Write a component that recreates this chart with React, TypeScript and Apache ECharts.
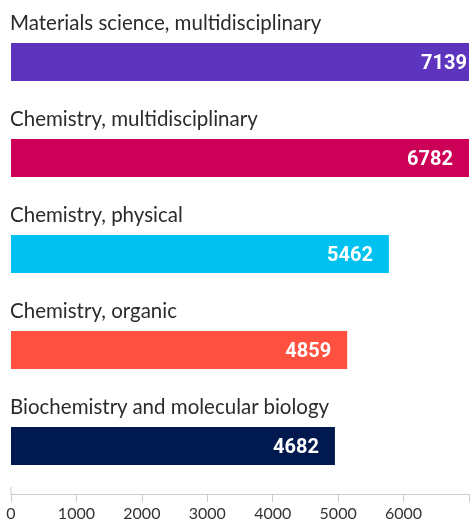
import React, { useEffect, useRef } from "react";
import * as echarts from "echarts";

const categories = [
  "Materials science, multidisciplinary",
  "Chemistry, multidisciplinary",
  "Chemistry, physical",
  "Chemistry, organic",
  "Biochemistry and molecular biology",
];
const values = [7139, 6782, 5462, 4859, 4682];
const colors = ["#5d34bd", "#cc0056", "#00c1ef", "#ff5040", "#001a50"];
const tickValues = [0, 1000, 2000, 3000, 4000, 5000, 6000, 7000];

export default function App() {
  const ref = useRef<HTMLDivElement>(null);
  useEffect(() => {
    if (!ref.current) return;
    const chart = echarts.init(ref.current, null, { renderer: "svg" });
    chart.setOption({
      animation: false,
      grid: { left: 11, right: 0, top: 14, height: 480, containLabel: false },
      xAxis: [
        {
          type: "value",
          min: tickValues[0],
          max: tickValues[tickValues.length - 1],
          interval: 1000,
          position: "bottom",
          splitLine: { show: false },
          axisLine: { show: true, lineStyle: { color: "#cccccc", width: 1 } },
          axisTick: { show: true, length: 8, lineStyle: { color: "#cccccc" } },
          axisLabel: {
            margin: 10,
            fontFamily: "Lato",
            fontSize: 16,
            color: "#333333",
            formatter: (v: number) => (v === 7000 ? "" : String(v)),
          },
        },
        {
          type: "value",
          min: 0,
          max: 6620,
          show: false,
          splitLine: { show: false },
        },
      ],
      yAxis: {
        type: "category",
        data: categories,
        inverse: true,
        axisLine: { show: false },
        axisTick: { show: false },
        axisLabel: {
          inside: true,
          margin: -1,
          align: "left",
          verticalAlign: "bottom",
          fontFamily: "Lato",
          fontSize: 20.5,
          lineHeight: 24,
          padding: [0, 0, 28, 0],
          color: "#2b2b2b",
        },
      },
      series: [
        {
          type: "bar",
          xAxisIndex: 1,
          barWidth: 38,
          clip: true,
          data: values.map((v, i) => ({
            value: v,
            itemStyle: { color: colors[i] },
            label: i === 0 ? { offset: [14, 0] } : undefined,
          })),
          label: {
            show: true,
            position: "insideRight",
            distance: 16,
            color: "#ffffff",
            fontFamily: "Roboto",
            fontWeight: "bold",
            fontSize: 20,
          },
        },
      ],
    });
    const x0 = chart.convertToPixel({ xAxisIndex: 0 }, 0) as number;
    chart.setOption({
      graphic: [
        {
          type: "line",
          shape: { x1: x0, y1: 487, x2: x0, y2: 494 },
          style: { stroke: "#cccccc", lineWidth: 1 },
        },
      ],
    });
    return () => chart.dispose();
  }, []);
  return (
    <div
      ref={ref}
      style={{ position: "fixed", left: 0, top: 0, width: 472, height: 526 }}
    />
  );
}
